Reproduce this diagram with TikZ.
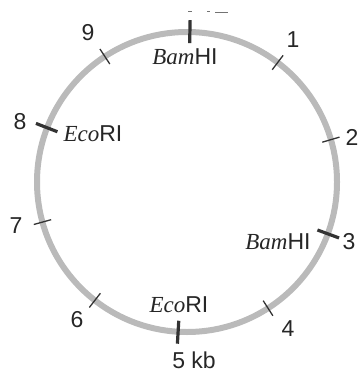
\documentclass[tikz,border=0pt]{standalone}
\usepackage{fontspec}
\usetikzlibrary{calc}
\setmainfont{Liberation Sans}
\newfontfamily\serifit{Liberation Serif}[ItalicFont={Liberation Serif Italic}]
\newcommand{\enz}[2]{{\serifit\itshape #1}#2}
\begin{document}
\begin{tikzpicture}[x=1pt,y=-1pt,
  lab/.style={font=\fontsize{23}{25}\selectfont, inner sep=0pt, text=black!85},
  ring/.style={draw=black!27, line width=6pt},
  thintick/.style={draw=black!80, line width=1.3pt},
  thicktick/.style={draw=black!80, line width=3.2pt},
  frag/.style={draw=black!55, line width=1pt}]
\useasboundingbox (0,0) rectangle (362,374);
\coordinate (c) at (187,182);
\draw[ring] (c) circle[radius=150pt];
% thin ticks (kb marks)
\foreach \a in {37.2,73.6,147.3,217.9,254.5,326.8}{
  \draw[thintick] ($(c)+({141*sin(\a)},{-141*cos(\a)})$) -- ($(c)+({159*sin(\a)},{-159*cos(\a)})$);
}
% thick ticks (restriction sites)
\foreach \a in {1.1,110.2,183.4,291.2}{
  \draw[thicktick] ($(c)+({139*sin(\a)},{-139*cos(\a)})$) -- ($(c)+({162*sin(\a)},{-162*cos(\a)})$);
}
% cut-off fragments at top
\draw[frag] (188,12) -- (192,12);
\draw[frag] (207,12) -- (210,12);
\draw[frag] (215,13) -- (228,13);
% labels
\node[lab] (n9) at (88,33) {9};
\node[lab] (n1) at (293,40) {1};
\node[lab] (n2) at (352,137) {2};
\node[lab] (n3) at (349,242) {3};
\node[lab] (n4) at (288,329) {4};
\node[lab] (n5) at (194,360) {5 kb};
\node[lab] (n6) at (77,320) {6};
\node[lab] (n7) at (16,226) {7};
\node[lab] (n8) at (20,122) {8};
\node[lab] (bamtop) at (185,57) {\enz{Bam}{HI}};
\node[lab] (bamright) at (278,242) {\enz{Bam}{HI}};
\node[lab] (ecoleft) at (93,134) {\enz{Eco}{RI}};
\node[lab] (ecobottom) at (179,305) {\enz{Eco}{RI}};
\end{tikzpicture}
\end{document}
